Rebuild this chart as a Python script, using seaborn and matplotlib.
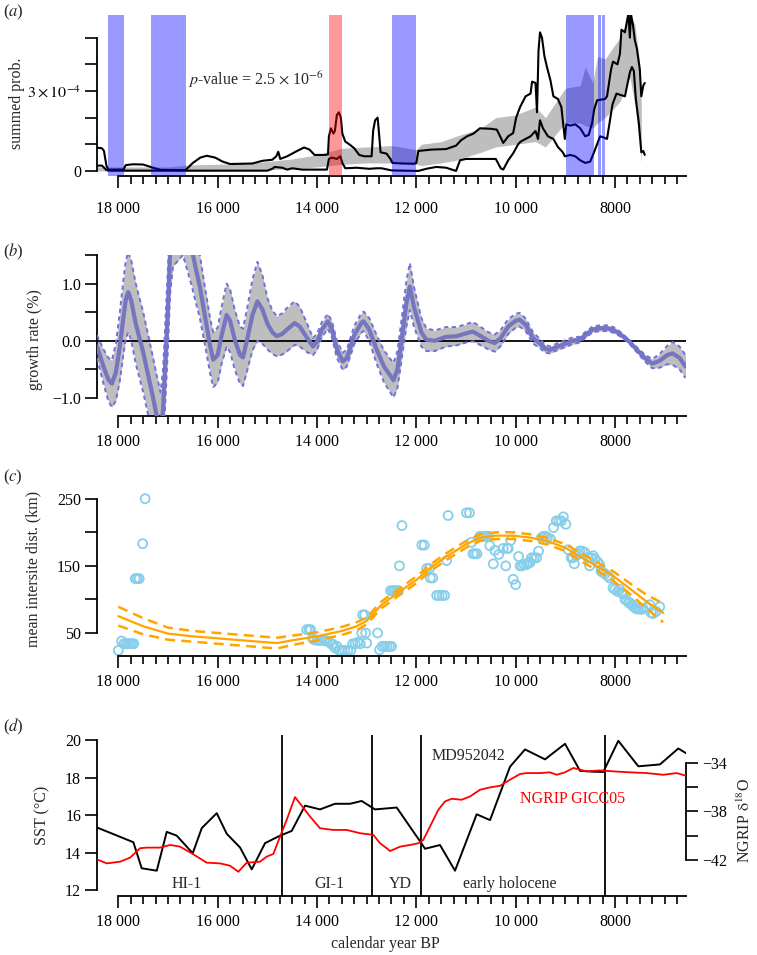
import numpy as np
import pandas as pd
import matplotlib
matplotlib.use("Agg")
import matplotlib.pyplot as plt
import seaborn as sns

# ---------------- data ----------------
# panel (a): summed probability (units of 1e-4)
a_up_year = [18420, 18330, 18290, 18240, 18200, 17900, 17850, 17700, 17500, 17300, 17150, 16650, 16500, 16350,
             16220, 16050, 15900, 15750, 15500, 15300, 15100, 14900, 14820, 14780, 14740, 14600, 14400, 14260,
             14150, 14050, 13850, 13780, 13760, 13720, 13670, 13640, 13600, 13560, 13520, 13490, 13430, 13350,
             13250, 13150, 13050, 12900, 12870, 12830, 12780, 12760, 12720, 12600, 12520, 12480, 12300, 12050,
             12000, 11960, 11700, 11400, 11200, 11100, 10980, 10850, 10720, 10500, 10380, 10300, 10250, 10150,
             10050, 9990, 9910, 9800, 9700, 9670, 9600, 9570, 9540, 9510, 9470, 9420, 9370, 9300, 9240, 9150,
             9080, 9010, 8980, 8900, 8800, 8700, 8600, 8530, 8460, 8420, 8360, 8200, 8160, 8080, 8040, 7950,
             7900, 7870, 7800, 7760, 7730, 7700, 7680, 7640, 7600, 7560, 7500, 7470, 7430, 7400]
a_up_val = [0.87, 0.85, 0.75, 0.2, 0.05, 0.05, 0.22, 0.25, 0.24, 0.12, 0.04, 0.03, 0.3, 0.5,
            0.57, 0.5, 0.35, 0.26, 0.27, 0.28, 0.38, 0.42, 0.55, 0.72, 0.45, 0.55, 0.75, 0.88,
            0.8, 0.6, 0.6, 0.62, 1.3, 1.6, 1.4, 1.5, 2.1, 2.2, 2.0, 1.4, 1.1, 1.0,
            0.85, 0.6, 0.55, 0.55, 1.5, 1.9, 2.0, 1.6, 0.7, 0.65, 0.45, 0.3, 0.28, 0.27,
            0.3, 0.75, 0.8, 0.82, 0.95, 1.15, 1.3, 1.4, 1.6, 1.58, 1.55, 1.25, 1.05, 1.3,
            1.42, 2.0, 2.4, 2.8, 2.9, 3.35, 3.3, 2.2, 4.5, 5.2, 5.0, 4.3, 3.9, 3.4, 2.8, 2.7,
            2.4, 1.2, 1.75, 1.7, 1.75, 1.6, 1.3, 1.35, 1.8, 2.3, 2.65, 2.7, 2.8, 3.8, 4.1, 4.0,
            4.4, 5.3, 5.2, 5.6, 5.9, 5.0, 5.9, 5.5, 4.9, 4.6, 3.8, 2.8, 3.2, 3.3]

a_lo_year = [18420, 18330, 18250, 18200, 15000, 14900, 14850, 14700, 14600, 14500, 14300, 13800, 13760,
             13700, 13600, 13530, 13490, 13430, 13200, 12950, 12800, 12700, 12500, 11960, 11800, 11600,
             11400, 11200, 11120, 11000, 10400, 10300, 10250, 10150, 10050, 9950, 9900, 9700, 9600, 9550,
             9510, 9450, 9350, 9240, 9150, 9050, 9010, 8900, 8800, 8700, 8600, 8500, 8430, 8300, 8220,
             8160, 8050, 7970, 7800, 7700, 7660, 7620, 7580, 7520, 7470, 7430, 7400]
a_lo_val = [0.2, 0.2, 0.05, 0.01, 0.01, 0.08, 0.15, 0.12, 0.05, 0.1, 0.05, 0.05, 0.45,
            0.5, 0.45, 0.55, 0.3, 0.1, 0.12, 0.08, 0.1, 0.1, 0.02, 0.0, 0.08, 0.15,
            0.12, 0.0, 0.4, 0.45, 0.45, 0.1, 0.05, 0.4, 0.66, 1.0, 1.1, 1.3, 1.5, 1.2,
            1.9, 1.6, 1.3, 1.2, 0.9, 0.7, 0.55, 0.6, 0.55, 0.4, 0.3, 0.35, 0.66, 1.3, 1.25,
            1.2, 2.5, 2.9, 2.8, 3.7, 3.9, 3.75, 2.7, 1.8, 0.7, 0.75, 0.6]

a_band_year = [18420, 17000, 16600, 15500, 15000, 14500, 14000, 13500, 13000, 12500, 12000, 11900, 11500,
               11200, 10700, 10400, 10000, 9600, 9400, 9000, 8700, 8600, 8450, 8350, 8200, 7900, 7700,
               7600, 7500, 7470]
a_band_lo = [0.0, 0.0, 0.0, 0.02, 0.05, 0.08, 0.15, 0.25, 0.3, 0.3, 0.25, 0.2, 0.3,
             0.4, 0.7, 0.9, 1.0, 1.1, 0.9, 1.8, 1.8, 1.7, 1.6, 1.8, 2.0, 2.6, 3.5,
             2.5, 1.0, 0.3]
a_band_hi = [0.15, 0.15, 0.22, 0.28, 0.35, 0.45, 0.6, 0.85, 0.9, 0.95, 0.8, 1.0, 1.1,
             1.3, 1.6, 2.0, 2.1, 2.4, 2.0, 3.1, 3.2, 3.9, 3.3, 4.3, 4.2, 5.0, 5.8,
             5.5, 4.0, 2.5]

a_blue_start = [18200, 17336, 12487, 8986, 8340, 8262]
a_blue_end = [17880, 16632, 12004, 8423, 8282, 8200]
a_red_start = [13754]
a_red_end = [13493]

# panel (b): growth rate (%)
b_year = [18430, 18300, 18200, 18130, 18050, 17970, 17900, 17850, 17800, 17740, 17650, 17500, 17400, 17300,
          17230, 17150, 17100, 17050, 17000, 16960, 16900, 16700, 16520, 16450, 16360, 16250, 16150, 16090,
          16000, 15920, 15820, 15750, 15650, 15550, 15490, 15400, 15300, 15200, 15100, 15000, 14900, 14810,
          14700, 14600, 14450, 14350, 14200, 14080, 14000, 13900, 13780, 13700, 13600, 13480, 13400, 13250,
          13100, 13060, 12950, 12800, 12650, 12460, 12380, 12300, 12200, 12130, 12050, 11900, 11800, 11630,
          11400, 11190, 11000, 10860, 10700, 10550, 10420, 10300, 10150, 10000, 9920, 9800, 9650, 9510,
          9400, 9310, 9150, 9000, 8850, 8710, 8600, 8450, 8300, 8150, 8030, 7900, 7730, 7600, 7400, 7250,
          7100, 6950, 6840, 6700, 6580]
b_mean = [-0.10, -0.45, -0.68, -0.75, -0.55, -0.1, 0.4, 0.72, 0.85, 0.7, 0.3, -0.2, -0.6, -1.0,
          -1.3, -1.6, -1.2, -0.3, 0.6, 1.5, 2.0, 2.2, 1.6, 1.3, 0.95, 0.4, -0.1, -0.33,
          -0.25, 0.1, 0.45, 0.35, 0.0, -0.25, -0.29, 0.05, 0.45, 0.69, 0.55, 0.3, 0.15, 0.08,
          0.12, 0.2, 0.31, 0.25, 0.05, -0.1, -0.02, 0.2, 0.34, 0.2, -0.15, -0.36, -0.3, 0.1,
          0.32, 0.34, 0.2, -0.15, -0.45, -0.69, -0.5, 0.0, 0.65, 0.95, 0.6, 0.15, 0.02, 0.0,
          0.07, 0.08, 0.13, 0.16, 0.08, 0.0, -0.04, 0.05, 0.25, 0.35, 0.37, 0.28, 0.05, -0.05,
          -0.14, -0.16, -0.1, -0.05, 0.0, 0.02, 0.1, 0.2, 0.22, 0.22, 0.19, 0.12, 0.0, -0.12, -0.3, -0.4,
          -0.35, -0.25, -0.22, -0.3, -0.45]
b_hw = [0.2, 0.3, 0.38, 0.41, 0.5, 0.6, 0.65, 0.68, 0.7, 0.7, 0.7, 0.7, 0.7, 0.7,
        0.7, 0.7, 0.7, 0.7, 0.7, 0.7, 0.7, 0.7, 0.65, 0.6, 0.55, 0.5, 0.48, 0.48,
        0.48, 0.5, 0.55, 0.55, 0.52, 0.5, 0.5, 0.55, 0.62, 0.69, 0.6, 0.45, 0.38, 0.35,
        0.36, 0.38, 0.38, 0.35, 0.25, 0.15, 0.14, 0.13, 0.13, 0.14, 0.15, 0.15, 0.15, 0.16,
        0.17, 0.17, 0.2, 0.25, 0.28, 0.3, 0.32, 0.35, 0.4, 0.41, 0.35, 0.25, 0.2, 0.18,
        0.17, 0.16, 0.16, 0.17, 0.16, 0.15, 0.15, 0.14, 0.13, 0.12, 0.12, 0.11, 0.1, 0.08,
        0.07, 0.06, 0.06, 0.06, 0.06, 0.05, 0.05, 0.05, 0.05, 0.05, 0.05, 0.04, 0.03, 0.04, 0.06, 0.08,
        0.12, 0.16, 0.2, 0.2, 0.2]

# panel (c): mean intersite distance (km)
c_pt_year = [18000, 17935, 17890, 17850, 17810, 17770, 17730, 17690, 17660, 17620, 17580, 17510, 17460,
             14207, 14160, 14130, 14090, 14060, 14000, 13950, 13900, 13850, 13800, 13750, 13700, 13680,
             13640, 13600, 13550, 13500, 13440, 13380, 13320, 13280, 13230, 13180, 13130, 13100, 13080,
             13040, 13020, 13000, 12780, 12740, 12690, 12640, 12590, 12540, 12500, 12520, 12480, 12440,
             12400, 12360, 12340, 12290,
             11890, 11840, 11790, 11740, 11720, 11670, 11590, 11540, 11480, 11430, 11390, 11360,
             10990, 10930, 10890, 10860, 10820, 10780, 10720, 10680, 10640, 10600, 10550, 10520, 10450,
             10420, 10340, 10250, 10200, 10170, 10150, 10100, 10050, 10000, 9940, 9910, 9870, 9830, 9780,
             9740, 9710, 9680, 9630, 9580, 9540, 9480, 9440, 9400, 9360, 9300, 9240, 9180, 9130, 9080,
             9040, 8990, 8940, 8880, 8850, 8820, 8780, 8740, 8710, 8660, 8610, 8540, 8510, 8480, 8440,
             8400, 8350, 8310, 8280, 8240, 8200, 8150, 8110, 8040, 8000, 7950, 7910, 7870, 7830, 7800,
             7760, 7720, 7700, 7660, 7640, 7600, 7570, 7530, 7480, 7430, 7370, 7300, 7270, 7230, 7170, 7100]
c_pt_val = [24, 38, 34, 34, 34, 34, 34, 34, 131, 131, 131, 183, 250,
            55, 55, 55, 42, 40, 39, 39, 39, 39, 38, 36, 33, 33,
            28, 30, 24, 24, 24, 24, 24, 34, 34, 36, 34, 50, 77,
            77, 50, 35, 50, 25, 30, 30, 30, 30, 30, 113, 113, 113,
            113, 113, 150, 210,
            181, 181, 146, 146, 132, 132, 106, 106, 106, 106, 158, 225,
            229, 229, 185, 168, 168, 168, 194, 194, 194, 194, 194, 180, 153,
            173, 167, 176, 150, 176, 176, 188, 130, 122, 164, 150, 150, 152, 152,
            155, 155, 162, 162, 162, 172, 192, 194, 194, 192, 190, 207, 217, 217, 217,
            223, 212, 174, 162, 162, 153, 165, 168, 172, 172, 170, 162, 150, 162, 165,
            160, 156, 152, 142, 140, 138, 135, 132, 117, 115, 112, 115, 110, 108, 100,
            98, 95, 95, 92, 90, 88, 86, 86, 85, 86, 88, 92, 80, 79, 82, 89]

c_fit_year = [18000, 17500, 17000, 16500, 16000, 15500, 15000, 14800, 14500, 14000, 13500, 13200, 13000,
              12700, 12330, 12000, 11700, 11390, 11000, 10720, 10400, 10050, 9700, 9370, 9000, 8710,
              8400, 8040, 7700, 7370, 7030]
c_fit = [75, 60, 49, 45, 42, 39, 36, 35, 39, 45, 53, 60, 68,
         92, 112, 129, 148, 164, 182, 192, 195, 195, 192, 187, 177, 164,
         151, 135, 116, 97, 80]
c_hw = [14, 12, 9, 8, 8, 8, 8, 8, 7, 6, 6, 6, 5,
        5, 5, 5, 5, 5, 5, 5, 5, 5, 5, 5, 5, 6,
        6, 7, 8, 10, 14]

# panel (d): SST (MD952042) and NGRIP d18O
d_sst_year = [18435, 17698, 17530, 17227, 17026, 16825, 16502, 16321, 16019, 15818, 15550, 15314, 15046,
              14744, 14510, 14242, 13940, 13638, 13336, 13100, 12832, 12395, 11926, 11825, 11523, 11221,
              10785, 10516, 10113, 9811, 9409, 9006, 8704, 8436, 8235, 7933, 7530, 7094, 6725, 6570]
d_sst = [15.34, 14.55, 13.16, 13.03, 15.1, 14.9, 13.96, 15.3, 16.1, 15.0, 14.27, 13.1, 14.5,
         14.9, 15.15, 16.5, 16.3, 16.6, 16.6, 16.75, 16.3, 16.4, 14.6, 14.2, 14.4, 13.03,
         16.04, 15.73, 18.58, 19.5, 18.97, 19.8, 18.36, 18.31, 18.3, 19.96, 18.6, 18.7, 19.55, 19.3]

d_ng_year = [18435, 18234, 17966, 17765, 17563, 17429, 17160, 16959, 16758, 16523, 16221, 15953, 15752,
             15584, 15415, 15147, 15013, 14879, 14744, 14610, 14443, 14141, 13940, 13671, 13403, 13134,
             12866, 12730, 12597, 12530, 12328, 12127, 11960, 11859, 11725, 11557, 11423, 11288, 11087,
             10919, 10718, 10516, 10315, 10114, 9913, 9779, 9510, 9309, 9175, 9007, 8839, 8571, 8302,
             8034, 7698, 7362, 7027, 6758, 6570]
d_ng = [-41.94, -42.28, -42.14, -41.81, -41.03, -40.98, -40.98, -40.76, -40.9, -41.45, -42.22, -42.28, -42.47,
        -42.97, -42.22, -42.14, -41.72, -41.5, -40.07, -38.69, -36.81, -38.41, -39.38, -39.52, -39.52, -39.79,
        -39.93, -40.62, -41.03, -41.26, -40.9, -40.76, -40.62, -40.34, -39.24, -37.86, -37.17, -36.95, -37.03,
        -36.76, -36.21, -36.01, -35.88, -35.38, -34.91, -34.83, -34.83, -34.77, -34.97, -34.77, -34.41, -34.69, -34.61,
        -34.69, -34.77, -34.83, -34.97, -34.83, -35.05]

d_events = [14700, 12900, 11900, 8200]
d_period_labels = ["HI-1", "GI-1", "YD", "early holocene"]
d_period_x = [16617, 13741, 12331, 10117]

x_major = [18000, 16000, 14000, 12000, 10000, 8000]
x_major_labels = ["18 000", "16 000", "14 000", "12 000", "10 000", "8000"]

# ---------------- style ----------------
sns.set_theme(style="ticks")
plt.rcParams["font.family"] = ["Liberation Serif", "DejaVu Serif"]
plt.rcParams["mathtext.fontset"] = "stix"
plt.rcParams["axes.linewidth"] = 1.3
plt.rcParams["xtick.color"] = "black"
plt.rcParams["ytick.color"] = "black"
plt.rcParams["axes.edgecolor"] = "black"

FS = 11.5
W, H = 757, 955
XL, XR = 97, 686
XLIM = (18430, 6570)

fig = plt.figure(figsize=(W / 100, H / 100), dpi=100)


def make_ax(top, bottom):
    return fig.add_axes([XL / W, 1 - bottom / H, (XR - XL) / W, (bottom - top) / H])


def style_x(ax, pad=4.5):
    ax.set_xlim(*XLIM)
    ax.set_xticks(x_major)
    ax.set_xticklabels(x_major_labels, fontsize=FS)
    ax.set_xticks(np.arange(18000, 6700, -250), minor=True)
    ax.tick_params(axis="x", which="major", length=8.5, width=1.2, pad=pad, direction="out")
    ax.tick_params(axis="x", which="minor", length=6, width=1.2, direction="out")
    ax.spines["bottom"].set_bounds(18000, XLIM[1])
    ax.spines["top"].set_visible(False)
    ax.spines["right"].set_visible(False)
    ax.set_xlabel("")
    ax.set_ylabel("")
    ax.grid(False)


def style_y(ax, ticks, labels, bounds):
    ax.set_yticks(ticks)
    ax.set_yticklabels(labels, fontsize=FS)
    ax.tick_params(axis="y", which="major", length=8.5, width=1.2, pad=3, direction="out")
    ax.spines["left"].set_bounds(*bounds)


# ---------------- panel (a) ----------------
ax = make_ax(15, 176)
sc = 1e-4
ax.fill_between(a_band_year, np.array(a_band_lo) * sc, np.array(a_band_hi) * sc,
                color="#bebebe", lw=0, zorder=1)
sns.lineplot(x=a_up_year, y=np.array(a_up_val) * sc, ax=ax, color="black", lw=1.5,
             estimator=None, sort=False, zorder=3)
sns.lineplot(x=a_lo_year, y=np.array(a_lo_val) * sc, ax=ax, color="black", lw=1.5,
             estimator=None, sort=False, zorder=3)
for s, e in zip(a_blue_start, a_blue_end):
    ax.axvspan(s, e, color=(0, 0, 1), alpha=0.4, lw=0, zorder=4)
for s, e in zip(a_red_start, a_red_end):
    ax.axvspan(s, e, color=(1, 0, 0), alpha=0.4, lw=0, zorder=4)
ax.set_ylim(-0.19e-4, 5.85e-4)
style_x(ax, pad=9.5)
style_y(ax, [0, 1e-4, 2e-4, 3e-4, 4e-4, 5e-4],
        ["0", "", "", r"$3\times10^{-4}$", "", ""], (0, 5e-4))
ax.text(15230, 3.42e-4, r"$p$-value = 2.5 $\times$ 10$^{-6}$", fontsize=FS,
        ha="center", va="center")

# ---------------- panel (b) ----------------
ax = make_ax(255, 416)
bm = np.array(b_mean)
bh = np.array(b_hw)
ax.fill_between(b_year, bm - bh, bm + bh, color="#bebebe", lw=0, zorder=1)
ax.axhline(0, color="black", lw=1.3, zorder=2)
sns.lineplot(x=b_year, y=bm, ax=ax, color="#7575c0", lw=3, estimator=None, sort=False, zorder=3)
sns.lineplot(x=b_year, y=bm + bh, ax=ax, color="#7070e0", lw=1.4, ls=(0, (2.2, 1.8)),
             estimator=None, sort=False, zorder=3)
sns.lineplot(x=b_year, y=bm - bh, ax=ax, color="#7070e0", lw=1.4, ls=(0, (2.2, 1.8)),
             estimator=None, sort=False, zorder=3)
ax.set_ylim(-1.315, 1.5)
style_x(ax)
style_y(ax, [-1.0, -0.5, 0.0, 0.5, 1.0, 1.5], ["\u22121.0", "", "0.0", "", "1.0", ""], (-1.0, 1.5))

# ---------------- panel (c) ----------------
ax = make_ax(490, 656)
cf = np.array(c_fit)
ch = np.array(c_hw)
sns.scatterplot(x=c_pt_year, y=c_pt_val, ax=ax, marker="o", s=42, zorder=2)
pts = ax.collections[-1]
pts.set_facecolor("none")
pts.set_edgecolor("#87ceeb")
pts.set_linewidth(1.3)
sns.lineplot(x=c_fit_year, y=cf, ax=ax, color="orange", lw=1.6, estimator=None, sort=False, zorder=3)
sns.lineplot(x=c_fit_year, y=cf + ch, ax=ax, color="orange", lw=1.8, ls=(0, (4, 2.5)),
             estimator=None, sort=False, zorder=3)
sns.lineplot(x=c_fit_year, y=cf - ch, ax=ax, color="orange", lw=1.8, ls=(0, (4, 2.5)),
             estimator=None, sort=False, zorder=3)
ax.set_ylim(15.7, 263)
style_x(ax)
style_y(ax, [50, 100, 150, 200, 250], ["50", "", "150", "", "250"], (50, 250))

# ---------------- panel (d) ----------------
ax = make_ax(735, 896)
sns.lineplot(x=d_sst_year, y=d_sst, ax=ax, color="black", lw=1.4, estimator=None, sort=False, zorder=3)
for ev in d_events:
    ax.axvline(ev, color="black", lw=1.3, zorder=2)
ax.set_ylim(11.68, 20.27)
style_x(ax)
style_y(ax, [12, 14, 16, 18, 20], ["12", "14", "16", "18", "20"], (12, 20))
for lab, xx in zip(d_period_labels, d_period_x):
    ax.text(xx, 12.3, lab, fontsize=FS, ha="center", va="center")
ax.text(10960, 19.15, "MD952042", fontsize=FS, ha="center", va="center")
ax.text(8850, 16.85, "NGRIP GICC05", fontsize=FS, ha="center", va="center", color="red")

ax2 = ax.twinx()
sns.lineplot(x=d_ng_year, y=d_ng, ax=ax2, color="red", lw=1.3, estimator=None, sort=False, zorder=3)
ax2.set_ylim(-44.97, -31.69)
ax2.set_xlim(*XLIM)
ax2.set_yticks([-42, -40, -38, -36, -34])
ax2.set_yticklabels(["\u221242", "", "\u221238", "", "\u221234"], fontsize=FS)
ax2.tick_params(axis="y", which="major", length=8.5, width=1.2, pad=3, direction="out")
for sp in ["top", "left", "bottom"]:
    ax2.spines[sp].set_visible(False)
ax2.spines["right"].set_bounds(-42, -34)
ax2.set_ylabel("")
ax2.grid(False)

# ---------------- labels ----------------
fig.text(17 / W, 1 - 103 / H, "summed prob.", rotation=90, ha="center", va="center", fontsize=FS)
fig.text(35 / W, 1 - 340 / H, "growth rate (%)", rotation=90, ha="center", va="center", fontsize=FS)
fig.text(33 / W, 1 - 569 / H, "mean intersite dist. (km)", rotation=90, ha="center", va="center", fontsize=FS)
fig.text(42 / W, 1 - 815 / H, "SST (\u00b0C)", rotation=90, ha="center", va="center", fontsize=FS)
fig.text(745 / W, 1 - 820 / H, r"NGRIP $\mathrm{\delta}^{18}$O", rotation=90, ha="center", va="center",
         fontsize=FS)
fig.text(385 / W, 1 - 944 / H, "calendar year BP", ha="center", va="center", fontsize=FS)

for lab, yy in zip(["a", "b", "c", "d"], [12, 252, 477, 727]):
    fig.text(3 / W, 1 - yy / H, "(" + r"$\it{" + lab + "}$" + ")", ha="left", va="center", fontsize=12)

fig.savefig("out.png", dpi=100)
